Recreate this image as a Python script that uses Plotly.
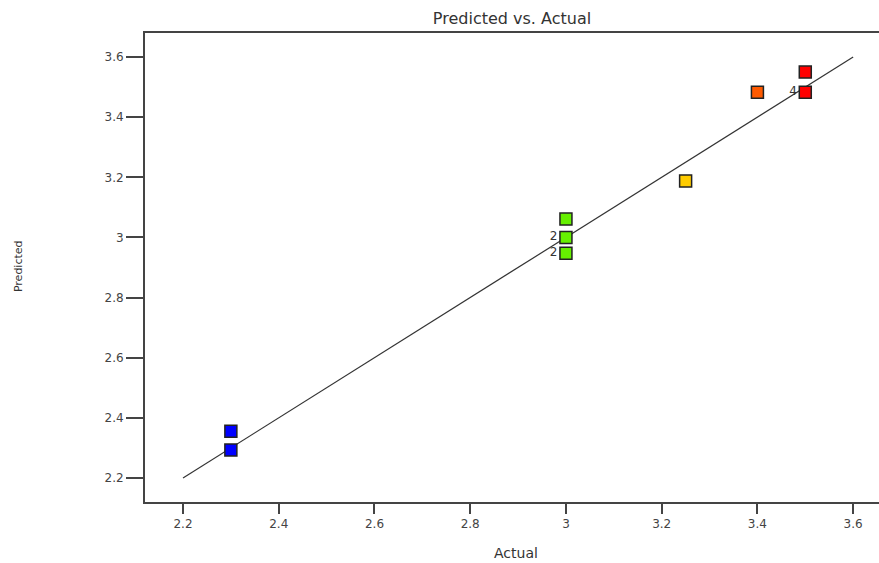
import plotly.graph_objects as go

# Data
actual = [2.3, 2.3, 3.0, 3.0, 3.0, 3.25, 3.4, 3.5, 3.5]
predicted = [2.355, 2.293, 3.061, 3.0, 2.947, 3.188, 3.483, 3.55, 3.483]
colors = ["#0000FF", "#0000FF", "#66F000", "#66F000", "#66F000", "#FFCC00", "#FF5A00", "#FF0000", "#FF0000"]
counts = ["", "", "", "2", "2", "", "", "", "4"]
x_ticks = [2.2, 2.4, 2.6, 2.8, 3.0, 3.2, 3.4, 3.6]
y_ticks = [2.2, 2.4, 2.6, 2.8, 3.0, 3.2, 3.4, 3.6]
x_tick_labels = ["2.2", "2.4", "2.6", "2.8", "3", "3.2", "3.4", "3.6"]
y_tick_labels = ["2.2", "2.4", "2.6", "2.8", "3", "3.2", "3.4", "3.6"]
ref_line = [2.2, 3.6]

font_family = "DejaVu Sans, sans-serif"

fig = go.Figure()
fig.add_trace(go.Scatter(
    x=ref_line, y=ref_line, mode="lines",
    line=dict(color="#333333", width=1.2), hoverinfo="skip", showlegend=False))
fig.add_trace(go.Scatter(
    x=actual, y=predicted, mode="markers+text",
    text=counts, textposition="middle left",
    textfont=dict(family=font_family, size=12, color="#333333"),
    marker=dict(symbol="square", size=12, color=colors,
                line=dict(color="#222222", width=1.5)),
    showlegend=False))

fig.update_layout(
    width=879, height=563,
    margin=dict(l=145, r=0, t=33, b=61),
    paper_bgcolor="white", plot_bgcolor="white",
    font=dict(family=font_family, color="#333333"),
    title=dict(text="Predicted vs. Actual", x=0.5, xref="paper", y=0.968, yanchor="middle",
               font=dict(size=16, color="#333333", family=font_family)),
    xaxis=dict(range=[2.1206, 3.654], tickvals=x_ticks, ticktext=x_tick_labels,
               showgrid=False, zeroline=False, showline=True, mirror=True,
               linecolor="#444444", linewidth=2, ticks="outside", ticklen=10,
               tickwidth=2, tickcolor="#444444",
               tickfont=dict(size=12, color="#444444", family=font_family)),
    yaxis=dict(range=[2.12, 3.68], tickvals=y_ticks, ticktext=y_tick_labels,
               showgrid=False, zeroline=False, showline=True, mirror=False,
               linecolor="#444444", linewidth=2, ticks="outside", ticklen=17,
               tickwidth=2, tickcolor="#444444",
               tickfont=dict(size=12, color="#444444", family=font_family)),
    annotations=[
        dict(text="Actual", xref="paper", yref="paper", x=0.505, y=-0.108,
             showarrow=False, xanchor="center", yanchor="middle",
             font=dict(size=14, color="#333333", family=font_family)),
        dict(text="Predicted", xref="paper", yref="paper", x=-0.173, y=0.503,
             xanchor="center", yanchor="middle",
             showarrow=False, textangle=-90,
             font=dict(size=11, color="#333333", family=font_family)),
    ],
)

fig.write_html("out.html", config={"displayModeBar": False},
               post_script="document.body.style.margin='0';document.body.style.overflow='hidden';")
